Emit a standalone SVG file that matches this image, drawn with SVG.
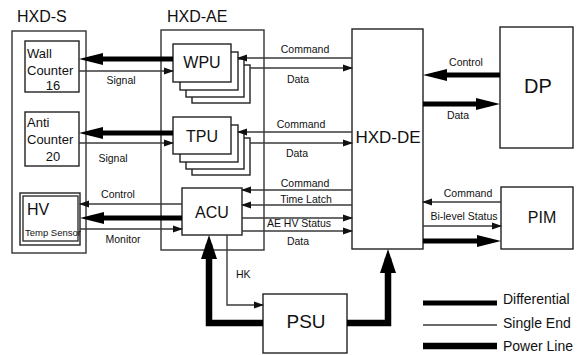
<svg xmlns="http://www.w3.org/2000/svg" width="577" height="355" viewBox="0 0 577 355">
<style>
text{font-family:"Liberation Sans",Arial,sans-serif;fill:#111}
.box{fill:#fff;stroke:#222;stroke-width:1.4}
.grp{fill:none;stroke:#333;stroke-width:1.4}
.big{font-size:16px}
.mid{font-size:13px}
.leg{font-size:14px}
.lbl{font-size:10.5px}
.c{text-anchor:middle}
.se{fill:none;stroke:#3a3a3a;stroke-width:1.4}
.df{fill:none;stroke:#000;stroke-width:5}
.pw{fill:none;stroke:#000;stroke-width:6.5;stroke-linejoin:miter}
</style>
<defs>
<marker id="aThin" markerUnits="userSpaceOnUse" markerWidth="10" markerHeight="8" refX="9" refY="4" orient="auto"><path d="M0,0.5 L10,4 L0,7.5 z" fill="#111"/></marker>
<marker id="aDiff" markerUnits="userSpaceOnUse" markerWidth="24" markerHeight="12" refX="13" refY="6" orient="auto"><path d="M0,0 L24,6 L0,12 z" fill="#000"/></marker>
<marker id="aPow" markerUnits="userSpaceOnUse" markerWidth="24" markerHeight="16" refX="15" refY="8" orient="auto"><path d="M0,0 L24,8 L0,16 z" fill="#000"/></marker>
</defs>

<g id="hxd-s">
<rect class="grp" x="12" y="31" width="74" height="222"/>
<text class="big" x="17" y="22">HXD-S</text>
</g>
<g id="wall-counter">
<rect class="box" x="25" y="41" width="54" height="51"/>
<text class="mid" x="27" y="58">Wall</text>
<text class="mid" x="27" y="75">Counter</text>
<text class="mid c" x="53" y="90">16</text>
</g>
<g id="anti-counter">
<rect class="box" x="25" y="112" width="54" height="54"/>
<text class="mid" x="27" y="127">Anti</text>
<text class="mid" x="27" y="144">Counter</text>
<text class="mid c" x="53" y="161">20</text>
</g>
<g id="hv">
<rect class="box" x="20" y="193" width="60" height="52"/>
<rect class="grp" x="23" y="196" width="55" height="45" stroke-width="1"/>
<text x="27" y="215" style="font-size:16px">HV</text>
<text x="25" y="236" style="font-size:9.5px">Temp Sensor</text>
</g>

<g id="hxd-ae">
<rect class="grp" x="161" y="30" width="103" height="220"/>
<text class="big" x="167" y="22">HXD-AE</text>
</g>
<g id="wpu">
<rect class="box" x="192" y="65" width="58" height="38"/>
<rect class="box" x="186" y="59" width="58" height="38"/>
<rect class="box" x="180" y="52" width="58" height="38"/>
<rect class="box" x="173" y="44" width="58" height="38"/>
<text class="big c" x="202" y="68">WPU</text>
</g>
<g id="tpu">
<rect class="box" x="192" y="138" width="58" height="37"/>
<rect class="box" x="186" y="132" width="58" height="37"/>
<rect class="box" x="180" y="125" width="58" height="37"/>
<rect class="box" x="173" y="117" width="58" height="37"/>
<text class="big c" x="202" y="142">TPU</text>
</g>
<g id="acu">
<rect class="box" x="182" y="188" width="60" height="47"/>
<text class="big c" x="212" y="218">ACU</text>
</g>

<g id="hxd-de">
<rect class="box" x="352" y="29" width="71" height="220"/>
<text class="c" x="388" y="143" style="font-size:17px">HXD-DE</text>
</g>
<g id="dp">
<rect class="box" x="500" y="27" width="73" height="121"/>
<text class="c" x="538" y="93" style="font-size:20px">DP</text>
</g>
<g id="pim">
<rect class="box" x="501" y="187" width="72" height="62"/>
<text class="big c" x="542" y="223">PIM</text>
</g>
<g id="psu">
<rect class="box" x="263" y="294" width="84" height="59"/>
<text class="c" x="306" y="328" style="font-size:19px">PSU</text>
</g>

<g id="connectors">
<line class="df" x1="173" y1="59" x2="90" y2="59" marker-end="url(#aDiff)"/>
<line class="se" x1="79" y1="71" x2="173" y2="71" marker-end="url(#aThin)"/>
<text class="lbl c" x="121" y="84">Signal</text>
<line class="df" x1="173" y1="133" x2="90" y2="133" marker-end="url(#aDiff)"/>
<line class="se" x1="79" y1="143" x2="173" y2="143" marker-end="url(#aThin)"/>
<text class="lbl c" x="113" y="162">Signal</text>
<line class="se" x1="182" y1="204" x2="80" y2="204" marker-end="url(#aThin)"/>
<text class="lbl c" x="118" y="198">Control</text>
<line class="df" x1="182" y1="218" x2="91" y2="218" marker-end="url(#aDiff)"/>
<line class="se" x1="80" y1="229" x2="182" y2="229" marker-end="url(#aThin)"/>
<text class="lbl c" x="123" y="243">Monitor</text>

<line class="se" x1="352" y1="58" x2="238" y2="58" marker-end="url(#aThin)"/>
<text class="lbl c" x="305" y="53">Command</text>
<line class="se" x1="250" y1="68" x2="352" y2="68" marker-end="url(#aThin)"/>
<text class="lbl c" x="298" y="83">Data</text>
<line class="se" x1="352" y1="132" x2="238" y2="132" marker-end="url(#aThin)"/>
<text class="lbl c" x="301" y="128">Command</text>
<line class="se" x1="250" y1="143" x2="352" y2="143" marker-end="url(#aThin)"/>
<text class="lbl c" x="297" y="157">Data</text>
<line class="se" x1="352" y1="190" x2="242" y2="190" marker-end="url(#aThin)"/>
<text class="lbl c" x="305" y="187">Command</text>
<line class="se" x1="352" y1="205" x2="242" y2="205" marker-end="url(#aThin)"/>
<text class="lbl c" x="306" y="203">Time Latch</text>
<line class="se" x1="242" y1="218" x2="352" y2="218" marker-end="url(#aThin)"/>
<text class="lbl c" x="299" y="227">AE HV Status</text>
<line class="se" x1="242" y1="231" x2="352" y2="231" marker-end="url(#aThin)"/>
<text class="lbl c" x="298" y="245">Data</text>

<line class="df" x1="500" y1="75" x2="434" y2="75" marker-end="url(#aDiff)"/>
<text class="lbl c" x="466" y="66">Control</text>
<line class="df" x1="423" y1="104" x2="489" y2="104" marker-end="url(#aDiff)"/>
<text class="lbl c" x="458" y="119">Data</text>
<line class="se" x1="501" y1="202" x2="423" y2="202" marker-end="url(#aThin)"/>
<text class="lbl c" x="468" y="197">Command</text>
<line class="se" x1="423" y1="226" x2="501" y2="226" marker-end="url(#aThin)"/>
<text class="lbl c" x="464" y="220">Bi-level Status</text>
<line class="df" x1="423" y1="241" x2="490" y2="241" marker-end="url(#aDiff)"/>

<polyline class="se" points="227,235 227,305 263,305" marker-end="url(#aThin)"/>
<text class="lbl" x="236" y="278">HK</text>
<polyline class="pw" points="263,323 209,323 209,244" marker-end="url(#aPow)"/>
<polyline class="pw" points="347,323 388,323 388,258" marker-end="url(#aPow)"/>
</g>

<g id="legend">
<line class="df" x1="423" y1="303" x2="497" y2="303"/>
<text class="leg" x="503" y="304">Differential</text>
<line class="se" x1="423" y1="325" x2="497" y2="325"/>
<text class="leg" x="503" y="328">Single End</text>
<line class="pw" x1="423" y1="346" x2="497" y2="346"/>
<text class="leg" x="503" y="351">Power Line</text>
</g>
</svg>
